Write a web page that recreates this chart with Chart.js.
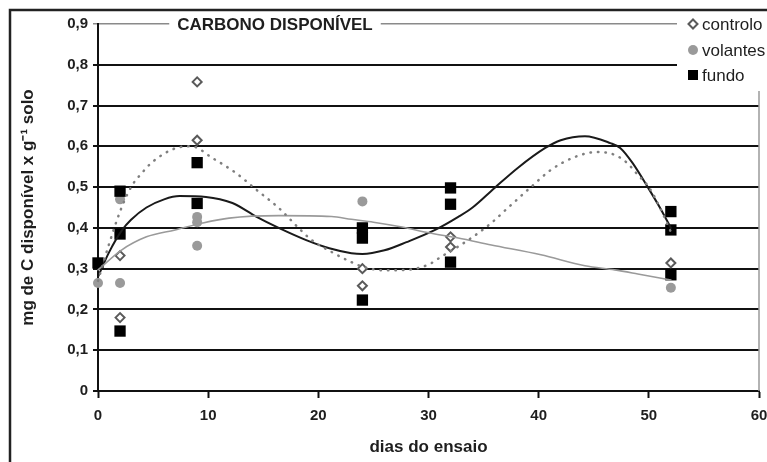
<!DOCTYPE html>
<html><head><meta charset="utf-8">
<script src="https://cdn.jsdelivr.net/npm/chart.js@4/dist/chart.umd.min.js"></script>
<style>html,body{margin:0;padding:0;background:#fff}#wrap{width:767px;height:462px;position:relative;overflow:hidden}</style>
</head><body><div id="wrap"><canvas id="c" width="767" height="462"></canvas></div>
<script>
// ---- texts ----
const chartTitle = 'CARBONO DISPONÍVEL';
const seriesNames = ['controlo', 'volantes', 'fundo'];
const xAxisTitle = 'dias do ensaio';
const yAxisTitle = 'mg de C disponível x g⁻¹ solo';
const xTickLabels = ['0', '10', '20', '30', '40', '50', '60'];
const yTickLabels = ['0', '0,1', '0,2', '0,3', '0,4', '0,5', '0,6', '0,7', '0,8', '0,9'];

// ---- observed points (day, value) ----
const controloDays   = [2, 2, 9, 9, 24, 24, 32, 32, 52];
const controloValues = [0.332, 0.18, 0.758, 0.615, 0.30, 0.258, 0.378, 0.353, 0.314];
const volantesDays   = [0, 2, 2, 9, 9, 9, 24, 52];
const volantesValues = [0.265, 0.47, 0.265, 0.427, 0.414, 0.356, 0.465, 0.253];
const fundoDays      = [0, 2, 2, 2, 9, 9, 24, 24, 24, 32, 32, 32, 52, 52, 52];
const fundoValues    = [0.314, 0.49, 0.385, 0.147, 0.56, 0.46, 0.40, 0.375, 0.223, 0.498, 0.458, 0.316, 0.44, 0.395, 0.285];

// ---- trend lines ----
const controloTrendDays   = [0, 1, 2, 3, 4, 5, 7, 8.5, 10.4, 12.5, 14.4, 16.4, 18.2, 19.4, 21.2, 23, 24, 26, 28, 30, 31.2, 33.6, 35.7, 37.2, 39.3, 41.1, 43.3, 45.3, 46.9, 48, 49, 50, 51, 52];
const controloTrendValues = [0.27, 0.36, 0.44, 0.50, 0.535, 0.563, 0.595, 0.60, 0.571, 0.535, 0.493, 0.449, 0.40, 0.37, 0.341, 0.316, 0.305, 0.296, 0.297, 0.31, 0.33, 0.37, 0.412, 0.449, 0.50, 0.542, 0.574, 0.586, 0.579, 0.56, 0.53, 0.50, 0.45, 0.39];
const volantesTrendDays   = [0, 2.1, 4.4, 7, 9.5, 11.9, 16.4, 21.2, 23, 25, 27.6, 30, 32.7, 35.7, 40.2, 44.2, 46.9, 49, 52];
const volantesTrendValues = [0.297, 0.345, 0.378, 0.395, 0.412, 0.424, 0.43, 0.428, 0.421, 0.414, 0.402, 0.388, 0.375, 0.358, 0.334, 0.307, 0.297, 0.287, 0.272];
const fundoTrendDays   = [0, 1, 2.2, 3, 4.4, 6, 7.4, 9.8, 12.2, 14.4, 16.4, 18.9, 21, 23, 24, 26, 28, 30.6, 32.7, 34, 36, 38.1, 40.6, 42, 44.2, 46.5, 47.4, 48.5, 49.9, 51, 52];
const fundoTrendValues = [0.28, 0.34, 0.395, 0.42, 0.45, 0.47, 0.478, 0.476, 0.461, 0.427, 0.40, 0.37, 0.35, 0.338, 0.336, 0.345, 0.365, 0.395, 0.427, 0.45, 0.498, 0.547, 0.596, 0.615, 0.625, 0.608, 0.596, 0.56, 0.50, 0.45, 0.40];

const pts = (xs, ys) => xs.map((x, i) => ({x: x, y: ys[i]}));
const FONT = '"Liberation Sans", Arial, sans-serif';
const INK = '#1e1e1e';

const markerStyles = [
  {pointStyle: 'rectRot', radius: 4.5, bg: '#ffffff', border: '#5a5a5a', bw: 2},
  {pointStyle: 'circle', radius: 5, bg: '#9a9a9a', border: '#9a9a9a', bw: 0},
  {pointStyle: 'rect', radius: 8, bg: '#000000', border: '#000000', bw: 0}
];

function scatterSet(name, data, st, order) {
  return {type: 'scatter', label: name, data: data, order: order, clip: false,
    pointStyle: st.pointStyle, pointRadius: st.radius, pointHoverRadius: st.radius,
    backgroundColor: st.bg, borderColor: st.border, pointBorderWidth: st.bw, borderWidth: st.bw, showLine: false};
}
function trendSet(data, color, width, dash, order) {
  return {type: 'line', label: '', data: data, order: order, borderColor: color, borderWidth: width, clip: false,
    borderDash: dash, borderCapStyle: 'round', pointRadius: 0, fill: false, cubicInterpolationMode: 'monotone'};
}

const framePlugin = {
  id: 'frame',
  beforeDatasetsDraw(chart) {
    const {ctx, chartArea: a} = chart;
    ctx.save();
    ctx.strokeStyle = '#9a9a9a'; ctx.lineWidth = 1.5;
    ctx.beginPath(); ctx.moveTo(a.right, a.top); ctx.lineTo(a.right, a.bottom); ctx.stroke();
    ctx.restore();
  },
  afterDraw(chart) {
    const {ctx} = chart;
    ctx.save();
    // outer frame
    ctx.strokeStyle = '#222'; ctx.lineWidth = 2.5;
    ctx.strokeRect(10, 10, 790, 500);
    // title
    ctx.font = 'bold 17px ' + FONT;
    const tw = ctx.measureText(chartTitle).width;
    const tx = 275, ty = 25;
    ctx.fillStyle = '#fff';
    ctx.fillRect(tx - tw / 2 - 8, ty - 10, tw + 16, 20);
    ctx.fillStyle = INK; ctx.textAlign = 'center'; ctx.textBaseline = 'middle';
    ctx.fillText(chartTitle, tx, ty);
    // legend
    ctx.fillStyle = '#fff';
    ctx.fillRect(677, 12, 100, 79);
    const ys = [24, 50, 75];
    seriesNames.forEach((nm, i) => {
      const st = markerStyles[i];
      const mx = 693, my = ys[i];
      ctx.beginPath();
      if (st.pointStyle === 'rectRot') {
        ctx.moveTo(mx - st.radius, my); ctx.lineTo(mx, my - st.radius); ctx.lineTo(mx + st.radius, my); ctx.lineTo(mx, my + st.radius); ctx.closePath();
      } else if (st.pointStyle === 'circle') {
        ctx.arc(mx, my, st.radius, 0, Math.PI * 2);
      } else {
        ctx.rect(mx - 5, my - 5, 10, 10);
      }
      ctx.fillStyle = st.bg; ctx.fill();
      if (st.bw) { ctx.strokeStyle = st.border; ctx.lineWidth = st.bw; ctx.stroke(); }
      ctx.fillStyle = INK; ctx.font = '17px ' + FONT; ctx.textAlign = 'left'; ctx.textBaseline = 'middle';
      ctx.fillText(nm, 702, my + 1);
    });
    ctx.restore();
  }
};

new Chart(document.getElementById('c'), {
  data: {
    datasets: [
      trendSet(pts(controloTrendDays, controloTrendValues), '#7f7f7f', 2.5, [0.5, 7], 0),
      trendSet(pts(volantesTrendDays, volantesTrendValues), '#9a9a9a', 1.6, [], 0),
      trendSet(pts(fundoTrendDays, fundoTrendValues), '#1a1a1a', 2, [], 0),
      scatterSet(seriesNames[0], pts(controloDays, controloValues), markerStyles[0], 2),
      scatterSet(seriesNames[1], pts(volantesDays, volantesValues), markerStyles[1], 3),
      scatterSet(seriesNames[2], pts(fundoDays, fundoValues), markerStyles[2], 1)
    ]
  },
  options: {
    responsive: false, animation: false, devicePixelRatio: 1,
    layout: {padding: {left: 0, right: 5, top: 24, bottom: 0}},
    plugins: {legend: {display: false}, tooltip: {enabled: false}, title: {display: false}},
    scales: {
      x: {
        type: 'linear', min: 0, max: 60,
        ticks: {stepSize: 10, color: INK, font: {family: FONT, size: 15, weight: 'bold'}, padding: 9,
          callback: (v, i) => xTickLabels[i]},
        grid: {drawOnChartArea: false, drawTicks: true, tickLength: 7, tickColor: '#111', tickWidth: 2},
        border: {display: true, color: '#111', width: 2},
        title: {display: true, text: xAxisTitle, color: INK, font: {family: FONT, size: 17, weight: 'bold'}, padding: {top: 0, bottom: 4}},
        afterFit(s) { s.height = 71; s.paddingLeft = 0; s.paddingRight = 0; }
      },
      y: {
        type: 'linear', min: 0, max: 0.9,
        ticks: {stepSize: 0.1, color: INK, font: {family: FONT, size: 15, weight: 'bold'}, padding: 5,
          callback: (v, i) => yTickLabels[i]},
        grid: {
          color: c => (c.tick && c.tick.value > 0.85) ? '#8a8a8a' : '#111',
          lineWidth: c => (c.tick && c.tick.value > 0.85) ? 1.5 : 2,
          tickColor: c => (c.tick && c.tick.value > 0.85) ? '#8a8a8a' : '#111',
          tickLength: 5, drawTicks: true
        },
        border: {display: true, color: '#111', width: 2},
        title: {display: true, text: yAxisTitle, color: INK, font: {family: FONT, size: 17, weight: 'bold'}, padding: {top: 18, bottom: 0}},
        afterFit(s) { s.width = 98; s.paddingTop = 0; s.paddingBottom = 0; }
      }
    }
  },
  plugins: [framePlugin]
});
</script>
</body></html>
